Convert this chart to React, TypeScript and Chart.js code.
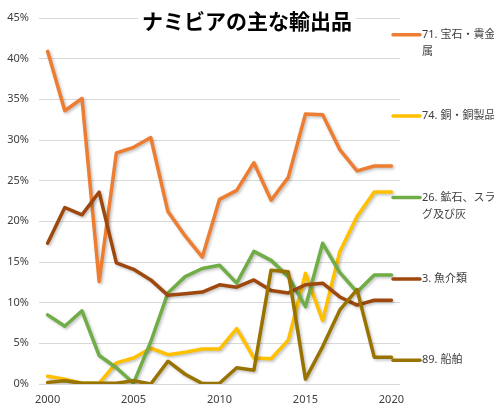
import React, { useEffect, useRef } from "react";
import { Chart, registerables } from "chart.js";

Chart.register(...registerables);

const TITLE = "ナミビアの主な輸出品";
const YEARS = [
  "2000", "2001", "2002", "2003", "2004", "2005", "2006", "2007", "2008", "2009", "2010",
  "2011", "2012", "2013", "2014", "2015", "2016", "2017", "2018", "2019", "2020",
];
const Y_TICKS = [0, 5, 10, 15, 20, 25, 30, 35, 40, 45];

// shares of total exports, %
const GEMS = [40.9, 33.6, 35.1, 12.6, 28.4, 29.1, 30.3, 21.2, 18.2, 15.6, 22.7, 23.8, 27.2, 22.6, 25.4, 33.2, 33.1, 28.8, 26.2, 26.8, 26.8];
const COPPER = [0.95, 0.6, 0.1, 0.1, 2.6, 3.2, 4.4, 3.6, 3.9, 4.3, 4.3, 6.8, 3.2, 3.1, 5.4, 13.6, 7.8, 16.3, 20.6, 23.6, 23.6];
const ORES = [8.5, 7.1, 9.0, 3.5, 2.0, 0.1, 5.2, 11.2, 13.2, 14.2, 14.6, 12.4, 16.3, 15.2, 13.2, 9.5, 17.3, 13.7, 11.3, 13.4, 13.4];
const FISH = [17.3, 21.7, 20.8, 23.6, 14.9, 14.1, 12.8, 10.9, 11.1, 11.3, 12.2, 11.9, 12.8, 11.5, 11.2, 12.2, 12.4, 10.7, 9.7, 10.3, 10.3];
const SHIPS = [0.2, 0.4, 0.1, 0.1, 0.1, 0.4, 0.0, 2.8, 1.2, 0.05, 0.1, 2.0, 1.7, 14.0, 13.8, 0.6, 4.6, 9.1, 11.6, 3.3, 3.3];

const SERIES_NAMES = [
  ["71. 宝石・貴金", "属"],
  ["74. 銅・銅製品"],
  ["26. 鉱石、スラ", "グ及び灰"],
  ["3. 魚介類"],
  ["89. 船舶"],
];
const SERIES_VALUES = [GEMS, COPPER, ORES, FISH, SHIPS];
const SERIES_COLORS = ["#ED7D31", "#FFC000", "#70AD47", "#9E480E", "#997300"];

const FONT = "'Noto Sans', 'Noto Sans CJK JP', sans-serif";
const TEXT_COLOR = "#404040";
const GRID_COLOR = "#D9D9D9";

const W = 494;
const H = 408;

const shadowPlugin = {
  id: "lineShadow",
  beforeDatasetDraw(chart: any) {
    const ctx = chart.ctx;
    ctx.save();
    ctx.shadowColor = "rgba(0,0,0,0.25)";
    ctx.shadowBlur = 3;
    ctx.shadowOffsetX = 1.5;
    ctx.shadowOffsetY = 1.5;
  },
  afterDatasetDraw(chart: any) {
    chart.ctx.restore();
  },
};

const overlayPlugin = {
  id: "overlay",
  afterDraw(chart: any) {
    const ctx = chart.ctx;
    ctx.save();
    // title on top of the plot, white box behind it
    ctx.font = `bold 21px 'Noto Sans CJK JP', sans-serif`;
    const tw = ctx.measureText(TITLE).width;
    ctx.fillStyle = "#fff";
    ctx.fillRect(W / 2 - tw / 2 - 4, 6, tw + 8, 28);
    ctx.fillStyle = "#000";
    ctx.textAlign = "center";
    ctx.textBaseline = "middle";
    ctx.fillText(TITLE, W / 2, 21);

    // legend, one slot per series down the right side
    const top = 34.7;
    const step = 81.4;
    const x0 = chart.chartArea.right - 8;
    ctx.textAlign = "left";
    ctx.font = `11px ${FONT}`;
    SERIES_NAMES.forEach((lines, i) => {
      const y = top + i * step;
      ctx.strokeStyle = SERIES_COLORS[i];
      ctx.lineWidth = 3.5;
      ctx.lineCap = "round";
      ctx.beginPath();
      ctx.moveTo(x0 + 1, y);
      ctx.lineTo(x0 + 28, y);
      ctx.stroke();
      ctx.fillStyle = TEXT_COLOR;
      lines.forEach((t, j) => ctx.fillText(t, x0 + 30, y + j * 17));
    });
    ctx.restore();
  },
};

export default function App() {
  const canvasRef = useRef<HTMLCanvasElement | null>(null);

  useEffect(() => {
    const el = canvasRef.current;
    if (!el) return;

    const chart = new Chart(el, {
      type: "line",
      data: {
        labels: YEARS,
        datasets: SERIES_VALUES.map((values, i) => ({
          label: SERIES_NAMES[i].join(""),
          data: values,
          borderColor: SERIES_COLORS[i],
          backgroundColor: SERIES_COLORS[i],
          borderWidth: 3.5,
          borderJoinStyle: "round",
          borderCapStyle: "round",
          pointRadius: 0,
          tension: 0,
          fill: false,
          order: SERIES_VALUES.length - i,
        })),
      },
      options: {
        responsive: false,
        animation: false,
        layout: { padding: { top: 18, right: 94, left: 0, bottom: 0 } },
        plugins: {
          legend: { display: false },
          title: { display: false },
          tooltip: { enabled: false },
        },
        scales: {
          x: {
            type: "category",
            offset: true,
            grid: { display: false, drawTicks: false },
            border: { display: false },
            ticks: {
              autoSkip: false,
              maxRotation: 0,
              padding: 9,
              color: TEXT_COLOR,
              font: { family: FONT, size: 11 },
              callback: (_v: any, idx: number) => (idx % 5 === 0 ? YEARS[idx] : ""),
            },
            afterFit: (s: any) => {
              s.height = 24;
            },
          },
          y: {
            min: Y_TICKS[0],
            max: Y_TICKS[Y_TICKS.length - 1],
            grid: { color: GRID_COLOR, lineWidth: 1, drawTicks: false },
            border: { display: false },
            afterBuildTicks: (s: any) => {
              s.ticks = Y_TICKS.map((v) => ({ value: v }));
            },
            ticks: {
              padding: 10,
              color: TEXT_COLOR,
              font: { family: FONT, size: 11 },
              callback: (v: any) => `${v}%`,
            },
            afterFit: (s: any) => {
              s.width = 39;
            },
          },
        },
      },
      plugins: [shadowPlugin, overlayPlugin],
    });

    return () => chart.destroy();
  }, []);

  return (
    <div style={{ position: "fixed", left: 0, top: 0, width: W, height: H, background: "#fff" }}>
      <canvas ref={canvasRef} width={W} height={H} />
    </div>
  );
}
